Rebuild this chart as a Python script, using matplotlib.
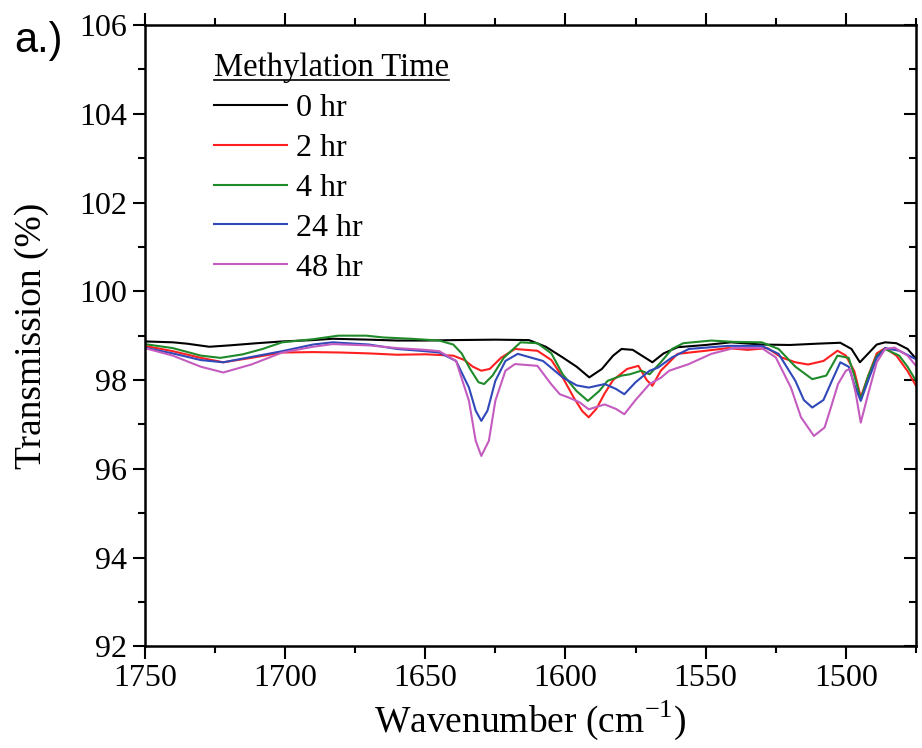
import numpy as np
import matplotlib.pyplot as plt
from matplotlib.ticker import MultipleLocator
from matplotlib.lines import Line2D

plt.rcParams['font.family'] = 'Liberation Serif'
plt.rcParams['mathtext.fontset'] = 'custom'
plt.rcParams['mathtext.rm'] = 'Liberation Serif'

# wavenumber (cm-1), transmission (%)
wn_0 = [1750, 1740, 1735, 1727, 1720, 1710, 1701, 1690, 1683, 1670, 1660, 1650, 1640, 1625, 1613,
        1607, 1601, 1596, 1591.5, 1587, 1583, 1580, 1576, 1572, 1569, 1565, 1560, 1550, 1541, 1530,
        1520, 1510, 1502, 1498, 1495, 1492, 1489, 1486, 1482, 1478, 1475]
t_0 = [98.87, 98.85, 98.82, 98.75, 98.78, 98.83, 98.87, 98.90, 98.93, 98.91, 98.89, 98.89, 98.90, 98.91, 98.90,
       98.75, 98.51, 98.30, 98.06, 98.25, 98.55, 98.70, 98.68, 98.52, 98.40, 98.60, 98.74, 98.79, 98.85, 98.80,
       98.79, 98.82, 98.84, 98.70, 98.40, 98.60, 98.80, 98.85, 98.83, 98.70, 98.48]

wn_2 = [1750, 1740, 1730, 1722, 1712, 1701, 1690, 1680, 1670, 1660, 1650, 1640, 1636, 1633, 1630,
        1627, 1623, 1618, 1610, 1605, 1601, 1597, 1594, 1591.7, 1589, 1586, 1583, 1578, 1574, 1571,
        1569, 1566, 1560, 1550, 1542, 1535, 1528, 1523, 1518, 1513.5, 1508, 1503, 1500, 1497, 1494.7,
        1492, 1489, 1486, 1482, 1478, 1475]
t_2 = [98.77, 98.65, 98.50, 98.40, 98.50, 98.62, 98.63, 98.62, 98.60, 98.57, 98.58, 98.55, 98.45, 98.30, 98.21,
       98.25, 98.50, 98.70, 98.66, 98.45, 98.06, 97.60, 97.30, 97.16, 97.35, 97.70, 98.00, 98.25, 98.32, 98.00,
       97.87, 98.21, 98.59, 98.66, 98.72, 98.68, 98.72, 98.51, 98.40, 98.35, 98.43, 98.66, 98.55, 98.20, 97.61,
       98.10, 98.60, 98.72, 98.55, 98.20, 97.87]

wn_4 = [1750, 1740, 1730, 1723, 1715, 1708, 1701, 1690, 1681, 1671, 1665, 1655, 1645, 1640, 1637,
        1634, 1631, 1629, 1626, 1622, 1616, 1610, 1605, 1601, 1596, 1592, 1588, 1585, 1580, 1577,
        1573, 1570, 1566, 1562, 1558, 1548, 1540, 1530, 1524, 1518, 1512, 1507, 1503, 1499, 1497,
        1494.7, 1492, 1489, 1486, 1481, 1478, 1475]
t_4 = [98.81, 98.72, 98.55, 98.50, 98.58, 98.70, 98.85, 98.92, 99.00, 99.00, 98.96, 98.93, 98.89, 98.80, 98.60,
       98.25, 97.95, 97.91, 98.10, 98.50, 98.85, 98.83, 98.60, 98.13, 97.75, 97.53, 97.75, 97.98, 98.10, 98.13,
       98.21, 98.13, 98.40, 98.70, 98.83, 98.89, 98.86, 98.85, 98.70, 98.30, 98.02, 98.10, 98.55, 98.50, 98.10,
       97.57, 98.10, 98.55, 98.70, 98.55, 98.30, 97.98]

wn_24 = [1750, 1740, 1730, 1722, 1712, 1701, 1690, 1683, 1670, 1660, 1650, 1645, 1639, 1634.4, 1632,
         1630, 1627.8, 1625, 1621.4, 1617, 1608, 1601, 1596, 1591.7, 1586, 1582, 1579, 1575, 1570, 1567,
         1562, 1556, 1542, 1530, 1524, 1518, 1515, 1512, 1508, 1505, 1502, 1499, 1497, 1494.7, 1492,
         1489, 1486, 1481, 1475]
t_24 = [98.73, 98.60, 98.45, 98.40, 98.52, 98.65, 98.80, 98.85, 98.80, 98.70, 98.65, 98.62, 98.43, 97.83, 97.31,
        97.08, 97.31, 97.98, 98.43, 98.59, 98.43, 98.06, 97.88, 97.83, 97.91, 97.80, 97.68, 97.95, 98.21, 98.28,
        98.51, 98.70, 98.77, 98.77, 98.59, 97.98, 97.55, 97.38, 97.55, 97.98, 98.40, 98.30, 97.90, 97.53, 98.00,
        98.50, 98.72, 98.66, 98.47]

wn_48 = [1750, 1740, 1730, 1722, 1712, 1701, 1690, 1683, 1670, 1660, 1650, 1645, 1639, 1634.4, 1632,
         1630, 1627.3, 1625, 1621.4, 1618, 1610, 1605, 1602, 1599, 1595, 1591.7, 1586, 1582, 1579, 1575,
         1570, 1566, 1563, 1556, 1548, 1540, 1530, 1525, 1519.6, 1516, 1511.4, 1507.6, 1505.7, 1502.8, 1500,
         1498.5, 1496.5, 1494.7, 1492, 1489, 1486, 1482.6, 1478, 1475]
t_48 = [98.72, 98.55, 98.30, 98.17, 98.35, 98.62, 98.75, 98.81, 98.78, 98.72, 98.68, 98.65, 98.43, 97.53, 96.63,
        96.29, 96.63, 97.53, 98.21, 98.36, 98.32, 97.90, 97.68, 97.61, 97.50, 97.34, 97.45, 97.35, 97.23, 97.55,
        97.91, 98.05, 98.21, 98.36, 98.59, 98.72, 98.72, 98.51, 97.83, 97.16, 96.74, 96.93, 97.31, 97.91, 98.21,
        98.25, 97.70, 97.04, 97.70, 98.40, 98.70, 98.73, 98.55, 98.32]

labels = ['0 hr', '2 hr', '4 hr', '24 hr', '48 hr']
colors = ['black', '#ff1f1f', '#1f8a2a', '#3048b8', '#c45cc0']

fig = plt.figure(figsize=(9.22, 7.48), dpi=100)
ax = fig.add_axes([0.157, 0.136, 0.8365, 0.8305])

for x, y, lab, c in zip([wn_0, wn_2, wn_4, wn_24, wn_48], [t_0, t_2, t_4, t_24, t_48], labels, colors):
    ax.plot(x, y, color=c, lw=1.5, label=lab)

ax.set_xlim(1750, 1475)
ax.set_ylim(92, 106)
ax.xaxis.set_major_locator(MultipleLocator(50))
ax.xaxis.set_minor_locator(MultipleLocator(25))
ax.yaxis.set_major_locator(MultipleLocator(2))
ax.yaxis.set_minor_locator(MultipleLocator(1))

ax.tick_params(which='both', direction='out', width=1.5, labelsize=23)
ax.tick_params(which='major', length=9)
ax.tick_params(which='minor', length=5)
ax.tick_params(axis='x', which='both', top=True, labeltop=False)
ax.tick_params(axis='y', which='both', right=True, labelright=False)
# right side ticks point inward
for t in ax.yaxis.get_ticklines(minor=False)[1::2] + ax.yaxis.get_ticklines(minor=True)[1::2]:
    t.set_marker(0)
for s in ax.spines.values():
    s.set_linewidth(1.8)

ax.set_xlabel('Wavenumber (cm$^{-1}$)', fontsize=27, labelpad=4)
ax.set_ylabel('Transmission (%)', fontsize=27, labelpad=22)

leg = ax.legend(loc='upper left', bbox_to_anchor=(0.052, 1.002), frameon=False, fontsize=23,
                title='Methylation Time', title_fontsize=23.5,
                handlelength=2.3, handletextpad=0.28, labelspacing=0.33, alignment='left')

fig.text(0.015, 0.972, 'a.)', fontsize=30, family='Liberation Sans', va='top', ha='left')

# underline the legend title
fig.canvas.draw()
bb = leg.get_title().get_window_extent().transformed(fig.transFigure.inverted())
fig.add_artist(Line2D([bb.x0, bb.x1], [bb.y0 + 0.004, bb.y0 + 0.004], color='black', lw=1.2,
                      transform=fig.transFigure))

fig.savefig('out.png', dpi=100)
